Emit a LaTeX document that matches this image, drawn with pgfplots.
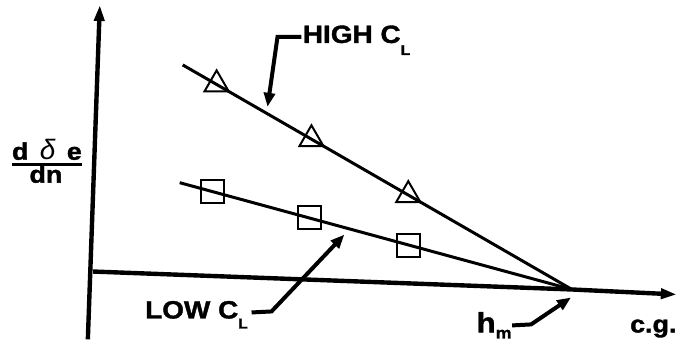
\documentclass[border=0pt]{standalone}
\usepackage{fontspec}
\setmainfont{Liberation Sans}
\newfontfamily\lbl[FakeStretch=1.12, BoldFeatures={FakeBold=1.5}]{Liberation Sans}
\usepackage{pgfplots}
\pgfplotsset{compat=1.18}
\usetikzlibrary{arrows.meta}

% schematic: elevator angle per g vs c.g. position
\begin{document}
\begin{tikzpicture}
  \begin{axis}[
    scale only axis,
    width=339.5pt, height=171.5pt,
    xmin=0, xmax=679, ymin=0, ymax=343,
    hide axis, clip=false,
  ]
  \path (rel axis cs:0,0) rectangle (rel axis cs:1,1);
  % axes (hand drawn, slightly tilted)
  \addplot[line width=2.2pt, -{Triangle[length=8pt,width=5pt]}] coordinates {(88,3) (100,338)};
  \addplot[line width=2.2pt, -{Triangle[length=8pt,width=5pt]}] coordinates {(93,71) (573,53) (678,48)};
  % high CL
  \addplot[line width=1.5pt] coordinates {(183,278) (573,53)};
  \addplot[only marks, mark=triangle, mark size=7pt, mark options={line width=1pt}]
    coordinates {(217,258.5) (312,203.5) (409,147.5)};
  % low CL
  \addplot[line width=1.5pt] coordinates {(180,160) (573,53)};
  \addplot[only marks, mark=square, mark size=5.8pt, mark options={line width=1pt}]
    coordinates {(213,151) (310,125) (409,97)};
  % leader arrows
  \addplot[line width=2pt, -{Triangle[length=7pt,width=5.5pt]}] coordinates {(302,306) (278,306) (268,236)};
  \addplot[line width=2pt, -{Triangle[length=7pt,width=5.5pt]}] coordinates {(252,30) (272,31) (345,108)};
  \addplot[line width=2pt, -{Triangle[length=7pt,width=5.5pt]}] coordinates {(513,17) (532,18) (572,45)};
  % fraction bar of the y label
  \addplot[line width=1.5pt] coordinates {(12,178) (82,178)};

  \node[anchor=base west, inner sep=0pt, font=\lbl\bfseries\fontsize{12.5}{13}\selectfont]
    at (axis cs:303,300) {HIGH C\raisebox{-6pt}{\fontsize{7}{8}\selectfont L}};
  \node[anchor=base west, inner sep=0pt, font=\lbl\bfseries\fontsize{12.5}{13}\selectfont]
    at (axis cs:145,24) {LOW C\raisebox{-5pt}{\fontsize{7}{8}\selectfont L}};
  \node[anchor=base west, inner sep=0pt, font=\lbl\bfseries\fontsize{14}{15}\selectfont]
    at (axis cs:477,10) {h\raisebox{-3pt}{\fontsize{8}{9}\selectfont m}};
  \node[anchor=base east, inner sep=0pt, font=\lbl\bfseries\fontsize{12}{13}\selectfont]
    at (axis cs:678,10) {c.g.};
  \node[anchor=base, inner sep=0pt, font=\lbl\bfseries\fontsize{12}{13}\selectfont]
    at (axis cs:47,183) {d\, {\normalfont\itshape\fontsize{14}{15}\selectfont δ}\, e};
  \node[anchor=base, inner sep=0pt, font=\lbl\bfseries\fontsize{12}{13}\selectfont]
    at (axis cs:46,160) {dn};
  \end{axis}
\end{tikzpicture}
\end{document}
